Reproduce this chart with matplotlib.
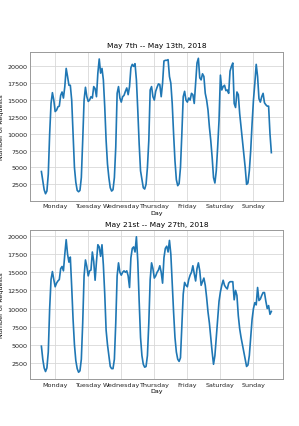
import matplotlib.pyplot as plt
import numpy as np

days = ["Monday", "Tuesday", "Wednesday", "Thursday", "Friday", "Saturday", "Sunday"]
titles = ["May 7th -- May 13th, 2018", "May 21st -- May 27th, 2018"]

# hourly request counts, one list per day
week1 = [
    [4400, 3000, 1700, 1100, 1500, 4000, 10000, 14500, 16100, 15000, 13300, 13500, 14000, 14100, 15700, 16200, 15300, 17000, 19700, 18500, 17200, 17200, 15000, 10000],
    [5000, 2800, 1600, 1400, 1600, 3500, 9000, 15000, 16900, 15500, 14800, 15000, 15500, 15300, 17000, 16700, 15500, 19000, 21100, 19000, 19700, 18000, 14000, 9000],
    [5500, 3500, 2000, 1500, 1700, 3500, 8000, 16000, 17000, 15300, 14700, 15500, 15700, 16300, 16800, 15800, 17000, 19800, 20300, 20000, 20400, 18000, 13500, 8500],
    [4500, 3200, 2000, 1800, 2500, 5000, 9000, 16500, 17000, 15500, 15000, 16300, 16900, 17400, 17300, 15500, 17500, 20800, 20900, 20900, 21000, 18500, 17500, 14500],
    [10000, 6000, 3200, 2300, 2600, 5000, 10000, 15500, 16300, 15000, 14700, 15300, 15000, 16000, 15800, 14500, 17500, 20500, 21200, 18300, 18000, 18900, 18500, 16000],
    [15000, 13500, 11000, 9000, 6500, 3500, 2700, 4500, 8000, 12000, 18700, 16500, 17000, 17200, 16400, 16500, 16000, 19300, 20000, 20500, 14500, 13900, 16200, 15800],
    [13000, 11000, 9000, 7000, 5000, 2500, 2700, 4500, 7500, 11500, 15000, 17500, 20300, 18500, 15200, 14700, 15500, 16000, 14600, 14300, 14100, 14100, 10000, 7200],
]
week2 = [
    [4800, 3000, 1800, 1300, 1800, 4000, 10000, 14000, 15100, 14000, 13000, 13500, 13800, 14000, 15500, 15800, 15200, 17500, 19500, 17500, 16400, 17100, 13000, 8500],
    [5000, 2800, 1700, 1200, 1400, 3000, 8000, 14500, 16700, 15800, 14500, 15200, 15300, 17800, 16500, 13900, 16500, 18800, 18500, 17200, 18800, 16000, 12000, 7000],
    [5000, 3500, 2000, 1700, 1700, 3000, 8000, 14500, 16300, 15000, 14600, 15000, 15200, 15000, 15200, 14500, 12900, 17000, 18300, 18500, 17800, 19900, 16500, 11000],
    [6000, 3500, 2300, 1900, 2000, 3500, 8000, 14000, 16300, 15500, 14200, 14500, 15000, 15300, 15900, 15000, 13500, 17000, 18300, 18600, 17800, 19400, 17500, 13500],
    [9500, 6000, 4000, 3000, 2700, 3200, 7500, 12000, 13600, 13200, 13000, 14000, 14600, 15000, 15900, 14800, 13800, 15500, 16300, 15200, 13200, 13700, 14200, 13200],
    [11500, 9500, 8000, 6000, 4000, 2300, 3500, 6000, 8500, 11000, 12300, 13200, 13900, 13200, 12900, 12700, 13500, 13700, 13700, 13700, 11200, 12500, 11800, 9000],
    [7200, 6000, 5000, 4000, 3000, 2000, 2200, 3500, 6000, 8500, 10000, 10800, 10500, 12900, 11100, 11300, 11800, 12200, 12200, 11000, 10000, 10400, 9200, 9600],
]

plt.rcParams['font.family'] = 'DejaVu Sans'
fig = plt.figure(figsize=(2.99, 4.27), dpi=100)
boxes = [[0.100, 0.528, 0.846, 0.349], [0.100, 0.110, 0.846, 0.349]]

for box, title, week in zip(boxes, titles, [week1, week2]):
    ax = fig.add_axes(box)
    y = np.concatenate(week)
    x = np.arange(len(y))
    ax.plot(x, y, color='#1f77b4', lw=1.2)
    ax.set_title(title, fontsize=5.4, pad=3)
    ax.set_xticks(np.arange(7) * 24 + 10)
    ax.set_xticklabels(days)
    ax.set_yticks(np.arange(2500, 20001, 2500))
    ax.set_xlabel("Day", fontsize=4.6, labelpad=1)
    ax.set_ylabel("Number of Requests", fontsize=4.6, labelpad=2)
    ax.tick_params(labelsize=4.6, length=0, pad=2, labelcolor='#222222')
    ax.grid(True, color='#d8d8d8', lw=0.6)
    ax.set_axisbelow(True)
    for s in ax.spines.values():
        s.set_color('#999999')
        s.set_linewidth(0.7)

fig.savefig("out.png", dpi=100)
